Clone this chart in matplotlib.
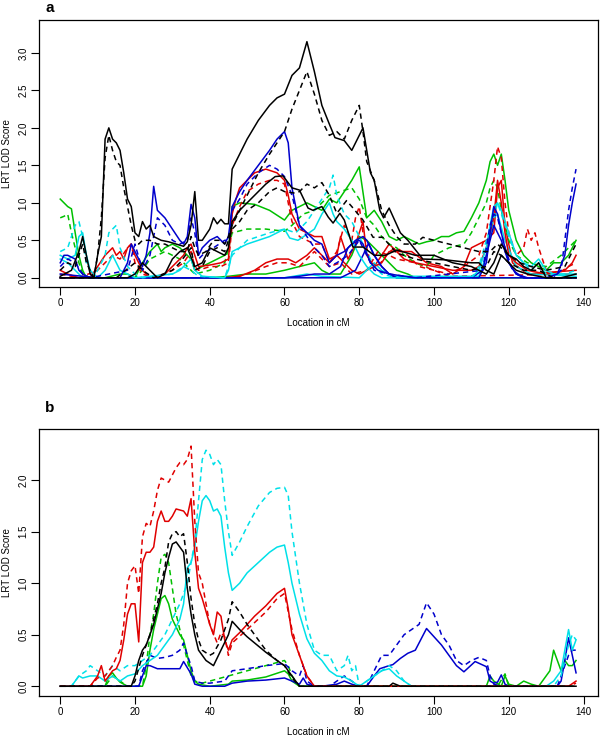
import matplotlib
matplotlib.use('Agg')
import matplotlib.pyplot as plt
import numpy as np

plt.rcParams['font.family'] = ['Liberation Sans', 'DejaVu Sans']

# ---- panel a : (cM, LOD) breakpoints ----
a_k1 = [(0, 0.02), (3, 0.1), (5, 0.35), (6, 0.55), (7, 0.3), (8, 0.05), (9, 0.0), (10, 0.3), (11, 0.55),
        (12, 1.85), (13, 2.0), (14, 1.85), (15, 1.8), (16, 1.7), (17, 1.4), (18, 1.05), (19, 0.95), (20, 0.6),
        (21, 0.55), (22, 0.75), (23, 0.65), (24, 0.7), (25, 0.55), (27, 0.5), (29, 0.48), (31, 0.45), (33, 0.42),
        (34, 0.48), (35, 0.7), (36, 1.15), (37, 0.5), (38, 0.5), (40, 0.65), (41, 0.8), (42, 0.72), (43, 0.78),
        (44, 0.72), (45, 0.72), (46, 1.45), (48, 1.65), (50, 1.85), (53, 2.1), (56, 2.3), (58, 2.4), (60, 2.45),
        (62, 2.7), (64, 2.8), (66, 3.15), (68, 2.75), (70, 2.3), (72, 2.05), (73.5, 1.87), (76, 1.83), (78, 1.7),
        (80, 1.9), (81, 2.0), (83, 1.4), (84, 1.3), (85.5, 0.9), (86.5, 0.8), (88, 0.93), (91, 0.6), (93, 0.5),
        (97, 0.25), (103, 0.24), (110, 0.2), (112, 0.2), (114, 0.1), (116, 0.05), (118, 0.3), (120, 0.2),
        (122, 0.1), (125, 0.05), (130, 0.0), (138, 0.0)]
a_k1d = [(0, 0.1), (2, 0.2), (4, 0.15), (6, 0.45), (7, 0.2), (9, 0.0), (10, 0.3), (11, 0.8), (12, 1.6), (13, 1.9),
         (14, 1.7), (15, 1.55), (16, 1.5), (17, 1.2), (18, 0.95), (19, 0.7), (20, 0.5), (21, 0.45), (22, 0.5),
         (24, 0.5), (26, 0.45), (28, 0.45), (30, 0.4), (32, 0.35), (34, 0.35), (35, 0.55), (36, 0.4), (37, 0.3),
         (39, 0.35), (41, 0.5), (43, 0.5), (44, 0.45), (45, 0.55), (46, 0.7), (48, 0.9), (50, 1.1), (53, 1.4),
         (56, 1.65), (58, 1.8), (60, 1.95), (62, 2.25), (64, 2.5), (66, 2.75), (68, 2.45), (70, 2.1), (72, 1.9),
         (74, 1.95), (76, 1.85), (78, 2.1), (80, 2.3), (81, 1.95), (82, 1.55), (84, 1.3), (86, 0.9), (88, 0.7),
         (90, 0.55), (92, 0.45), (95, 0.45), (97, 0.54), (100, 0.5), (104, 0.45), (108, 0.4), (112, 0.35),
         (115, 0.35), (117, 0.45), (120, 0.3), (123, 0.2), (126, 0.15), (130, 0.1), (135, 0.15), (138, 0.45)]
a_k2 = [(0, 0.0), (18, 0.0), (20, 0.05), (22, 0.2), (24, 0.1), (26, 0.0), (28, 0.05), (30, 0.25), (32, 0.35),
        (34, 0.4), (36, 0.15), (38, 0.2), (40, 0.4), (42, 0.35), (44, 0.3), (45, 0.4), (46, 0.75), (48, 0.9),
        (50, 1.0), (52, 1.1), (55, 1.25), (57.5, 1.35), (59.6, 1.36), (62, 1.2), (64, 1.17), (66.3, 0.93),
        (67.6, 0.9), (70, 0.95), (71.7, 0.81), (73, 0.73), (74.8, 0.86), (76, 0.77), (78.3, 0.41), (81, 0.41),
        (84, 0.3), (87, 0.3), (90, 0.37), (95, 0.3), (100, 0.3), (105, 0.2), (110, 0.15), (112, 0.1), (114, 0.05),
        (116, 0.2), (118, 0.45), (120, 0.3), (122, 0.25), (124, 0.15), (126, 0.1), (128, 0.2), (130, 0.0),
        (134, 0.0), (138, 0.05)]
a_k2d = [(0, 0.0), (15, 0.0), (20, 0.2), (22, 0.1), (25, 0.0), (30, 0.1), (32, 0.2), (35, 0.4), (36, 0.1),
         (38, 0.15), (40, 0.35), (42, 0.4), (44, 0.35), (46, 0.65), (48, 0.75), (50, 0.9), (53, 1.0), (56, 1.15),
         (58, 1.2), (60, 1.15), (62.7, 1.13), (64, 1.15), (66, 1.25), (68, 1.2), (70, 1.27), (72, 1.1), (74, 0.86),
         (76.6, 1.03), (78, 0.95), (81, 0.77), (83.7, 0.54), (86.3, 0.54), (90, 0.33), (95, 0.25), (100, 0.2),
         (105, 0.15), (110, 0.1), (114, 0.15), (116, 0.35), (118, 0.3), (120, 0.2), (124, 0.1), (128, 0.1),
         (132, 0.0), (138, 0.0)]
a_b1 = [(0, 0.2), (1, 0.3), (2, 0.3), (4, 0.25), (5, 0.1), (6, 0.05), (8, 0.0), (16, 0.0), (18, 0.2), (19, 0.45),
        (20, 0.35), (22, 0.15), (23, 0.3), (24, 0.6), (25, 1.22), (26, 0.9), (28, 0.8), (30, 0.65), (32, 0.5),
        (33, 0.45), (34, 0.55), (35, 0.98), (36, 0.8), (37, 0.3), (38, 0.4), (40, 0.5), (42, 0.55), (43, 0.5),
        (44, 0.45), (45, 0.55), (46, 0.95), (48, 1.15), (50, 1.3), (53, 1.5), (56, 1.7), (58, 1.85), (60, 1.95),
        (61, 1.8), (62, 1.2), (64, 0.7), (66, 0.6), (68, 0.5), (70, 0.45), (72, 0.2), (74, 0.3), (76, 0.35),
        (78, 0.45), (80, 0.5), (81, 0.45), (83, 0.2), (85, 0.1), (88, 0.05), (95, 0.0), (112, 0.0), (114, 0.2),
        (115, 0.6), (116, 0.95), (117, 0.85), (118, 0.6), (120, 0.2), (122, 0.05), (125, 0.0), (130, 0.0),
        (133, 0.05), (135, 0.3), (136, 0.7), (137, 1.0), (138, 1.25)]
a_b1d = [(0, 0.15), (2, 0.25), (4, 0.2), (6, 0.05), (8, 0.0), (18, 0.1), (20, 0.45), (22, 0.1), (24, 0.3),
         (26, 0.8), (28, 0.7), (30, 0.5), (32, 0.45), (34, 0.5), (35, 0.8), (36, 0.6), (37, 0.25), (39, 0.35),
         (41, 0.4), (44, 0.5), (45, 0.5), (46, 0.9), (48, 1.05), (50, 1.25), (53, 1.4), (56, 1.5), (58, 1.45),
         (60, 1.35), (62, 1.1), (64, 0.7), (66, 0.55), (68, 0.4), (70, 0.3), (72, 0.15), (74, 0.2), (77, 0.3),
         (80, 0.5), (82, 0.3), (84, 0.1), (88, 0.05), (95, 0.0), (113, 0.1), (115, 0.7), (116, 0.85), (117, 0.8),
         (119, 0.4), (121, 0.1), (124, 0.0), (132, 0.0), (134, 0.1), (135, 0.5), (136, 0.9), (137, 1.2), (138, 1.45)]
a_b2 = [(0, 0.05), (10, 0.0), (60, 0.0), (64, 0.02), (68, 0.05), (72, 0.05), (75, 0.15), (77, 0.4), (79, 0.5),
        (81, 0.55), (82, 0.5), (84, 0.3), (86, 0.15), (88, 0.05), (90, 0.0), (138, 0.0)]
a_b3 = [(0, 0.0), (75, 0.0), (79, 0.1), (81, 0.3), (82.5, 0.46), (84, 0.3), (86, 0.15), (88, 0.05), (90, 0.0),
        (110, 0.0), (113, 0.1), (115, 0.5), (116, 0.7), (118, 0.5), (120, 0.2), (122, 0.05), (124, 0.0), (138, 0.0)]
a_r1 = [(0, 0.1), (2, 0.05), (5, 0.0), (8, 0.0), (10, 0.15), (12, 0.3), (14, 0.4), (15, 0.3), (16, 0.35),
        (17, 0.25), (18, 0.4), (19, 0.45), (20, 0.3), (22, 0.1), (24, 0.0), (28, 0.05), (30, 0.15), (33, 0.3),
        (34, 0.4), (35, 0.45), (36, 0.3), (37, 0.15), (40, 0.17), (43, 0.2), (45, 0.25), (46, 0.85), (47, 1.05),
        (48, 1.2), (50, 1.3), (52, 1.4), (55, 1.45), (58, 1.4), (60, 1.3), (61, 1.1), (62, 0.85), (64, 0.65),
        (66, 0.6), (68, 0.55), (70, 0.55), (72, 0.25), (74, 0.3), (75, 0.55), (77, 0.25), (79, 0.45), (81, 0.75),
        (82, 0.3), (84, 0.15), (86, 0.2), (88, 0.35), (90, 0.35), (92, 0.25), (95, 0.2), (100, 0.15), (105, 0.1),
        (110, 0.1), (112, 0.15), (114, 0.4), (116, 0.8), (117, 1.3), (118, 1.0), (119, 0.6), (120, 0.3),
        (122, 0.2), (125, 0.1), (130, 0.05), (135, 0.1), (137, 0.2), (138, 0.3)]
a_r1d = [(0, 0.05), (5, 0.0), (10, 0.1), (12, 0.2), (14, 0.3), (16, 0.25), (18, 0.4), (19, 0.45), (20, 0.2),
         (22, 0.05), (25, 0.0), (28, 0.05), (30, 0.1), (33, 0.2), (35, 0.35), (36, 0.15), (37, 0.1), (40, 0.15),
         (43, 0.15), (45, 0.2), (46, 0.7), (48, 0.95), (50, 1.15), (53, 1.25), (56, 1.3), (58, 1.3), (60, 1.25),
         (61, 1.0), (62, 0.75), (64, 0.55), (66, 0.5), (68, 0.45), (70, 0.45), (72, 0.2), (74, 0.35), (76, 0.7),
         (78, 0.5), (79, 0.8), (80, 0.95), (81, 0.6), (83, 0.2), (85, 0.15), (88, 0.35), (90, 0.4), (93, 0.3),
         (96, 0.15), (100, 0.1), (104, 0.05), (108, 0.15), (112, 0.3), (114, 0.6), (116, 1.3), (117, 1.75),
         (118, 1.6), (119, 1.0), (120, 0.6), (122, 0.3), (124, 0.4), (125, 0.65), (126, 0.5), (127, 0.6),
         (128, 0.4), (130, 0.1), (133, 0.05), (136, 0.15), (138, 0.2)]
a_r2 = [(0, 0.0), (44, 0.0), (48, 0.02), (52, 0.1), (55, 0.2), (58, 0.25), (61, 0.25), (63, 0.2), (66, 0.3),
        (68, 0.4), (70, 0.3), (72, 0.2), (74, 0.3), (76, 0.2), (78, 0.1), (80, 0.05), (84, 0.15), (86, 0.3),
        (88, 0.45), (90, 0.35), (94, 0.35), (98, 0.2), (102, 0.15), (105, 0.05), (108, 0.15), (110, 0.4),
        (112, 0.45), (114, 0.5), (116, 0.6), (117, 1.2), (118, 1.3), (119, 0.7), (121, 0.2), (125, 0.05), (138, 0.1)]
a_r2d = [(0, 0.0), (46, 0.0), (50, 0.05), (55, 0.15), (58, 0.2), (61, 0.2), (64, 0.15), (66, 0.25), (68, 0.35),
         (70, 0.25), (72, 0.15), (75, 0.2), (78, 0.05), (82, 0.1), (85, 0.35), (88, 0.3), (90, 0.25), (95, 0.2),
         (100, 0.1), (104, 0.02), (138, 0.05)]
a_g1 = [(0, 1.05), (1, 1.0), (2, 0.95), (3, 0.92), (4, 0.6), (5, 0.3), (6, 0.1), (7, 0.0), (12, 0.0), (16, 0.05),
        (18, 0.05), (20, 0.0), (22, 0.2), (24, 0.35), (26, 0.45), (27, 0.35), (28, 0.4), (30, 0.45), (32, 0.4),
        (34, 0.3), (35, 0.25), (36, 0.1), (38, 0.15), (40, 0.2), (42, 0.25), (44, 0.3), (45, 0.35), (46, 0.95),
        (48, 1.0), (52, 0.98), (56, 0.9), (60, 0.77), (62, 0.9), (64, 0.95), (66, 1.0), (68, 0.95), (70, 0.9),
        (72, 1.05), (74, 1.0), (76, 1.15), (78, 1.3), (80, 1.48), (82, 0.8), (84, 0.9), (86, 0.75), (88, 0.55),
        (90, 0.5), (92, 0.55), (94, 0.5), (96, 0.45), (98, 0.48), (100, 0.5), (102, 0.55), (104, 0.55),
        (106, 0.6), (108, 0.62), (110, 0.8), (112, 1.0), (114, 1.3), (115, 1.55), (116, 1.65), (117, 1.5),
        (118, 1.65), (119, 1.3), (120, 0.9), (122, 0.5), (124, 0.3), (126, 0.2), (128, 0.15), (130, 0.1),
        (132, 0.2), (134, 0.2), (136, 0.3), (138, 0.5)]
a_g1d = [(0, 0.8), (1, 0.82), (2, 0.85), (3, 0.6), (4, 0.4), (5, 0.2), (6, 0.05), (8, 0.0), (20, 0.0), (22, 0.1),
         (24, 0.25), (26, 0.3), (28, 0.35), (30, 0.3), (32, 0.25), (34, 0.15), (36, 0.05), (40, 0.1), (44, 0.2),
         (45, 0.4), (46, 0.6), (50, 0.65), (55, 0.65), (60, 0.62), (62, 0.7), (65, 0.85), (68, 0.9), (70, 1.0),
         (72, 1.1), (75, 1.15), (78, 1.2), (80, 1.05), (82, 0.8), (84, 0.7), (86, 0.55), (88, 0.45), (90, 0.4),
         (92, 0.3), (95, 0.2), (98, 0.15), (100, 0.3), (104, 0.4), (108, 0.45), (110, 0.6), (112, 0.8),
         (114, 1.0), (115, 1.2), (116, 1.3), (117, 1.2), (118, 0.9), (120, 0.5), (122, 0.3), (125, 0.2),
         (130, 0.15), (134, 0.3), (136, 0.4), (138, 0.5)]
a_g2 = [(0, 0.0), (40, 0.0), (45, 0.02), (50, 0.05), (55, 0.05), (58, 0.08), (60, 0.1), (64, 0.15), (68, 0.2),
        (70, 0.1), (72, 0.05), (75, 0.05), (78, 0.3), (80, 0.55), (82, 0.5), (84, 0.4), (86, 0.3), (88, 0.2),
        (90, 0.1), (93, 0.05), (95, 0.0), (138, 0.0)]
a_c1 = [(0, 0.3), (2, 0.25), (4, 0.3), (5, 0.55), (6, 0.6), (7, 0.3), (8, 0.1), (10, 0.0), (12, 0.1), (14, 0.3),
        (15, 0.2), (16, 0.1), (18, 0.05), (20, 0.0), (30, 0.05), (32, 0.1), (34, 0.2), (35, 0.25), (36, 0.1),
        (38, 0.02), (44, 0.0), (45, 0.1), (46, 0.35), (48, 0.4), (50, 0.45), (53, 0.5), (56, 0.55), (60, 0.65),
        (61.4, 0.53), (63.6, 0.5), (66.3, 0.59), (68, 0.65), (70, 0.85), (72, 1.0), (73, 0.85), (74, 0.75),
        (76, 0.65), (78, 0.5), (80, 0.3), (82, 0.15), (84, 0.05), (86, 0.0), (110, 0.0), (112, 0.1), (114, 0.4),
        (115, 0.7), (116, 0.95), (117, 1.0), (118, 0.9), (120, 0.6), (122, 0.3), (124, 0.2), (126, 0.15),
        (128, 0.25), (130, 0.1), (132, 0.05), (138, 0.05)]
a_c1d = [(0, 0.35), (2, 0.4), (4, 0.7), (5, 0.75), (6, 0.55), (7, 0.2), (9, 0.0), (12, 0.3), (13, 0.6), (14, 0.65),
         (15, 0.7), (16, 0.4), (18, 0.15), (20, 0.05), (22, 0.0), (30, 0.05), (33, 0.15), (35, 0.1), (37, 0.02),
         (44, 0.0), (45, 0.15), (46, 0.3), (48, 0.4), (50, 0.5), (53, 0.55), (56, 0.6), (60, 0.65), (63, 0.6),
         (66, 0.75), (68, 0.9), (70, 1.05), (72, 1.2), (73, 1.37), (74, 1.1), (76, 0.85), (78, 0.75), (80, 0.55),
         (82, 0.35), (84, 0.15), (86, 0.05), (90, 0.0), (110, 0.0), (112, 0.15), (114, 0.5), (116, 0.8),
         (117, 1.0), (118, 0.85), (120, 0.55), (122, 0.3), (124, 0.2), (126, 0.1), (128, 0.2), (130, 0.05),
         (135, 0.05), (138, 0.1)]
a_c2 = [(0, 0.25), (2, 0.2), (4, 0.1), (6, 0.0), (60, 0.0), (66, 0.05), (70, 0.02), (80, 0.0), (82, 0.1),
        (84, 0.2), (86, 0.1), (88, 0.05), (90, 0.02), (112, 0.02), (114, 0.3), (116, 0.8), (117, 0.85),
        (119, 0.5), (122, 0.15), (126, 0.05), (138, 0.02)]

# ---- panel b ----
b_r1 = [(0, 0), (8, 0), (9, 0.05), (10, 0.1), (11, 0.2), (12, 0.05), (13, 0.1), (14, 0.15), (15, 0.17), (16, 0.25),
        (17, 0.45), (18, 0.7), (19, 0.8), (20, 0.8), (21, 0.43), (22, 1.2), (23, 1.3), (24, 1.3), (25, 1.35),
        (26, 1.6), (27, 1.7), (28, 1.6), (29, 1.6), (30, 1.65), (31, 1.72), (33, 1.7), (34, 1.65), (35, 1.82),
        (36, 1.3), (37, 0.95), (38, 0.85), (40, 0.6), (41, 0.5), (42, 0.72), (43, 0.68), (44, 0.45), (45, 0.35),
        (46, 0.45), (48, 0.52), (50, 0.6), (52, 0.68), (55, 0.78), (58, 0.9), (60, 0.95), (61, 0.75), (62, 0.5),
        (64, 0.3), (66, 0.1), (68, 0.0), (136, 0.0), (138, 0.05)]
b_r1d = [(0, 0), (8, 0), (10, 0.08), (12, 0.1), (14, 0.2), (15, 0.28), (16, 0.35), (17, 0.6), (18, 1.0), (19, 1.12),
         (20, 1.17), (21, 0.9), (22, 1.45), (23, 1.58), (24, 1.55), (25, 1.7), (26, 1.9), (27, 2.02), (28, 2.0),
         (29, 1.98), (30, 2.05), (31, 2.12), (32, 2.17), (33, 2.15), (34, 2.2), (35, 2.33), (36, 1.6), (37, 1.1),
         (38, 1.0), (40, 0.6), (42, 0.42), (43, 0.52), (44, 0.48), (45, 0.3), (46, 0.42), (50, 0.55), (55, 0.72),
         (58, 0.85), (60, 0.9), (62, 0.55), (64, 0.3), (66, 0.1), (68, 0.0), (136, 0.0), (138, 0.03)]
b_c1 = [(0, 0.0), (3, 0.0), (4, 0.05), (5, 0.1), (6, 0.08), (8, 0.1), (10, 0.1), (12, 0.05), (14, 0.1), (16, 0.05),
        (18, 0.1), (20, 0.12), (22, 0.2), (24, 0.25), (26, 0.3), (28, 0.4), (30, 0.5), (32, 0.65), (33, 0.8),
        (34, 1.15), (35, 1.2), (36, 1.35), (37, 1.6), (38, 1.8), (39, 1.85), (40, 1.8), (41, 1.7), (42, 1.72),
        (43, 1.65), (44, 1.35), (45, 1.1), (46, 0.93), (48, 1.0), (50, 1.1), (53, 1.2), (56, 1.3), (58, 1.35),
        (60, 1.37), (61, 1.2), (62, 1.0), (64, 0.7), (66, 0.46), (68, 0.32), (70, 0.25), (72, 0.15), (74, 0.1),
        (76, 0.09), (78, 0.05), (80, 0.0), (82, 0.05), (84, 0.1), (86, 0.15), (88, 0.17), (90, 0.1), (92, 0.05),
        (94, 0.0), (130, 0.0), (132, 0.05), (134, 0.15), (136, 0.55), (137, 0.35), (138, 0.45)]
b_c1d = [(0, 0.0), (3, 0.0), (4, 0.05), (5, 0.1), (7, 0.15), (8, 0.2), (10, 0.15), (12, 0.1), (14, 0.2), (16, 0.15),
         (18, 0.2), (20, 0.2), (22, 0.25), (24, 0.3), (26, 0.4), (28, 0.5), (30, 0.65), (32, 0.8), (34, 1.0),
         (36, 1.4), (37, 1.8), (38, 2.2), (39, 2.29), (40, 2.25), (41, 2.15), (42, 2.2), (43, 2.15), (44, 1.8),
         (45, 1.5), (46, 1.27), (48, 1.4), (50, 1.55), (53, 1.75), (56, 1.88), (58, 1.92), (60, 1.93), (61, 1.85),
         (62, 1.5), (64, 1.0), (66, 0.6), (68, 0.35), (70, 0.3), (72, 0.3), (74, 0.15), (76, 0.2), (77, 0.3),
         (78, 0.15), (79, 0.2), (80, 0.0), (82, 0.05), (84, 0.1), (86, 0.15), (88, 0.2), (90, 0.15), (92, 0.05),
         (94, 0.0), (132, 0.0), (134, 0.1), (136, 0.4), (137, 0.5), (138, 0.45)]
b_k1 = [(0, 0), (19, 0.0), (20, 0.1), (21, 0.25), (22, 0.35), (23, 0.4), (24, 0.5), (25, 0.6), (26, 0.75), (27, 0.9),
        (28, 1.1), (29, 1.25), (30, 1.38), (31, 1.4), (32, 1.35), (33, 1.3), (34, 0.95), (35, 0.7), (36, 0.5),
        (37, 0.35), (38, 0.3), (39, 0.25), (41, 0.2), (43, 0.35), (45, 0.5), (46, 0.63), (48, 0.55), (50, 0.48),
        (52, 0.42), (55, 0.33), (58, 0.25), (60, 0.2), (62, 0.1), (64, 0.0), (88, 0.0), (89, 0.03), (91, 0.0),
        (138, 0.0)]
b_k1d = [(0, 0), (19, 0.0), (20, 0.05), (22, 0.3), (24, 0.5), (26, 0.8), (27, 1.0), (28, 1.15), (29, 1.4),
         (30, 1.48), (31, 1.5), (32, 1.45), (33, 1.48), (34, 1.2), (35, 0.85), (36, 0.6), (37, 0.45), (38, 0.35),
         (40, 0.3), (41, 0.32), (43, 0.45), (45, 0.65), (46, 0.82), (48, 0.72), (50, 0.6), (52, 0.5), (55, 0.35),
         (58, 0.25), (60, 0.2), (62, 0.08), (64, 0.0), (138, 0.0)]
b_g1 = [(0, 0), (12, 0.0), (13, 0.1), (14, 0.13), (15, 0.08), (16, 0.04), (18, 0.0), (22, 0.0), (23, 0.1),
        (24, 0.35), (25, 0.55), (26, 0.7), (27, 0.85), (28, 0.88), (29, 0.8), (30, 0.65), (32, 0.5), (33, 0.45),
        (34, 0.3), (35, 0.15), (36, 0.05), (37, 0.02), (40, 0.0), (45, 0.02), (46, 0.05), (50, 0.06), (55, 0.09),
        (60, 0.15), (61, 0.12), (62, 0.05), (64, 0.0), (114, 0.0), (115, 0.1), (116, 0.05), (118, 0.0),
        (119, 0.1), (120, 0.02), (122, 0.0), (124, 0.05), (126, 0.02), (128, 0.0), (130, 0.1), (131, 0.15),
        (132, 0.35), (133, 0.25), (134, 0.15), (135, 0.25), (136, 0.2), (137, 0.2), (138, 0.25)]
b_g1d = [(0, 0), (12, 0.0), (14, 0.1), (16, 0.05), (18, 0.0), (22, 0.0), (23, 0.2), (24, 0.5), (25, 0.7),
         (26, 1.0), (27, 1.25), (28, 1.28), (29, 1.2), (30, 0.95), (31, 0.7), (32, 0.55), (33, 0.4), (34, 0.25),
         (35, 0.1), (36, 0.05), (38, 0.03), (40, 0.05), (45, 0.1), (50, 0.15), (55, 0.2), (60, 0.25), (61, 0.2),
         (62, 0.1), (64, 0.0), (117, 0.0), (119, 0.12), (120, 0.0), (138, 0.0)]
b_b1 = [(0, 0), (21, 0.0), (22, 0.1), (23, 0.2), (24, 0.2), (26, 0.17), (28, 0.17), (30, 0.17), (32, 0.17),
        (33, 0.24), (34, 0.18), (35, 0.12), (36, 0.02), (38, 0.0), (44, 0.0), (46, 0.03), (50, 0.05), (55, 0.06),
        (60, 0.08), (62, 0.05), (64, 0.02), (65, 0.08), (66, 0.02), (68, 0.0), (70, 0.0), (74, 0.02), (76, 0.05),
        (78, 0.02), (80, 0.0), (82, 0.0), (84, 0.1), (85.5, 0.17), (88, 0.2), (89, 0.21), (91, 0.27), (93, 0.32),
        (95, 0.35), (98, 0.56), (100, 0.48), (102, 0.4), (104, 0.3), (106, 0.2), (108, 0.14), (111, 0.24),
        (114, 0.19), (115, 0.05), (116, 0.03), (117, 0.04), (118, 0.11), (119, 0.02), (120, 0.0), (133, 0.0),
        (134, 0.05), (135, 0.25), (136, 0.47), (137, 0.3), (138, 0.13)]
b_b1d = [(0, 0), (21, 0.0), (22, 0.15), (24, 0.3), (26, 0.27), (28, 0.28), (30, 0.3), (32, 0.35), (33, 0.42),
         (34, 0.3), (35, 0.2), (36, 0.05), (38, 0.03), (40, 0.03), (44, 0.05), (46, 0.15), (50, 0.17), (55, 0.2),
         (60, 0.22), (62, 0.15), (64, 0.1), (65, 0.2), (66, 0.05), (68, 0.0), (72, 0.0), (74, 0.05), (76, 0.1),
         (78, 0.05), (80, 0.0), (82, 0.0), (84, 0.15), (86, 0.3), (88, 0.3), (90, 0.4), (92, 0.5), (94, 0.55),
         (96, 0.6), (98, 0.81), (100, 0.7), (102, 0.5), (104, 0.4), (106, 0.25), (108, 0.2), (110, 0.25),
         (112, 0.28), (114, 0.25), (115, 0.1), (116, 0.02), (118, 0.0), (133, 0.0), (136, 0.3), (137, 0.35),
         (138, 0.35)]

BLACK, RED, GREEN, BLUE, CYAN = 'black', '#E00000', '#00C000', '#0000CC', '#00E0E8'

panel_a = [(a_g2, GREEN, '-'), (a_r2, RED, '-'), (a_r2d, RED, '--'), (a_c2, CYAN, '-'),
           (a_g1, GREEN, '-'), (a_g1d, GREEN, '--'), (a_r1, RED, '-'), (a_r1d, RED, '--'),
           (a_b2, BLUE, '-'), (a_b3, BLUE, '-'), (a_c1, CYAN, '-'), (a_c1d, CYAN, '--'),
           (a_b1, BLUE, '-'), (a_b1d, BLUE, '--'), (a_k2, BLACK, '-'), (a_k2d, BLACK, '--'),
           (a_k1d, BLACK, '--'), (a_k1, BLACK, '-')]
panel_b = [(b_g1, GREEN, '-'), (b_g1d, GREEN, '--'), (b_b1, BLUE, '-'), (b_b1d, BLUE, '--'),
           (b_c1, CYAN, '-'), (b_c1d, CYAN, '--'), (b_r1, RED, '-'), (b_r1d, RED, '--'),
           (b_k1, BLACK, '-'), (b_k1d, BLACK, '--')]

fig = plt.figure(figsize=(6, 7.38), dpi=100)
ax_a = fig.add_axes([0.0655, 0.611, 0.9307, 0.362])
ax_b = fig.add_axes([0.0655, 0.057, 0.9307, 0.362])


def draw(ax, series, ylim, ytop):
    for pts, col, ls in series:
        xs = [p[0] for p in pts]
        ys = [p[1] for p in pts]
        line, = ax.plot(xs, ys, color=col, lw=1.1)
        if ls == '--':
            line.set_dashes((3.5, 2.6))
    ax.set_xlim(-5.6, 143.8)
    ax.set_ylim(*ylim)
    ax.set_xticks(range(0, 141, 20))
    yt = np.arange(0, ytop + 0.01, 0.5)
    ax.set_yticks(yt)
    ax.set_yticklabels(['%.1f' % v for v in yt], rotation=90, va='center')
    ax.tick_params(direction='out', length=5.5, width=0.8, labelsize=7, pad=2.5)
    for s in ax.spines.values():
        s.set_linewidth(0.9)
    ax.set_xlabel('Location in cM', fontsize=7, va='center')
    ax.set_ylabel('LRT LOD Score', fontsize=7, va='center')
    ax.xaxis.set_label_coords(0.5, -0.135)
    ax.yaxis.set_label_coords(-0.057, 0.5)


draw(ax_a, panel_a, (-0.124, 3.44), 3.0)
draw(ax_b, panel_b, (-0.094, 2.498), 2.0)

fig.text(0.075, 1 - 1 / 738, 'a', fontsize=11, fontweight='bold', ha='left', va='top')
fig.text(0.075, 1 - 401 / 738, 'b', fontsize=11, fontweight='bold', ha='left', va='top')

plt.savefig('out.png', dpi=100)
